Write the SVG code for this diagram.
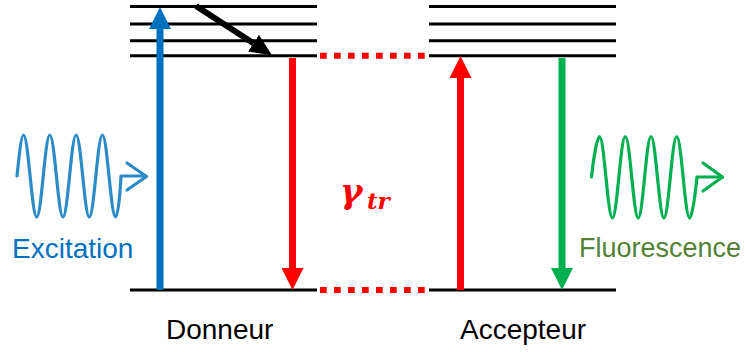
<svg xmlns="http://www.w3.org/2000/svg" width="745" height="352" viewBox="0 0 745 352">
<style>
.lvl{stroke:#000;stroke-width:3;fill:none}
.dot{stroke:#FF0000;stroke-width:6;stroke-dasharray:6.7 7.3;fill:none}
.shaft{stroke-width:7;fill:none}
.wave{fill:none;stroke-width:3.2;stroke-linejoin:round;stroke-linecap:round}
.lbl{font-family:"Liberation Sans",Arial,sans-serif;font-size:28px}
.gam{font-family:"DejaVu Serif","Liberation Serif",serif;font-weight:bold;font-style:italic;fill:#FF0000}
</style>
<defs>
<marker id="hBlue" markerUnits="userSpaceOnUse" markerWidth="22" markerHeight="22" viewBox="0 0 22 22" refX="0" refY="11" orient="auto"><path d="M0,0 L22,11 L0,22 z" fill="#0070C0"/></marker>
<marker id="hRed" markerUnits="userSpaceOnUse" markerWidth="22" markerHeight="22" viewBox="0 0 22 22" refX="0" refY="11" orient="auto"><path d="M0,0 L22,11 L0,22 z" fill="#FF0000"/></marker>
<marker id="hGreen" markerUnits="userSpaceOnUse" markerWidth="22" markerHeight="22" viewBox="0 0 22 22" refX="0" refY="11" orient="auto"><path d="M0,0 L22,11 L0,22 z" fill="#00B050"/></marker>
<marker id="hBlack" markerUnits="userSpaceOnUse" markerWidth="22" markerHeight="20" viewBox="0 0 22 20" refX="0" refY="10" orient="auto"><path d="M0,0 L22,10 L0,20 z" fill="#000"/></marker>
</defs>
<rect width="745" height="352" fill="#fff"/>

<g id="donneur">
<line class="lvl" x1="130" y1="6.5" x2="317" y2="6.5"/>
<line class="lvl" x1="130" y1="24" x2="317" y2="24"/>
<line class="lvl" x1="130" y1="40.8" x2="317" y2="40.8"/>
<line class="lvl" x1="130" y1="55.8" x2="317" y2="55.8"/>
<line class="lvl" x1="130" y1="290" x2="317" y2="290"/>
<text class="lbl" x="166" y="339" fill="#000">Donneur</text>
</g>

<g id="accepteur">
<line class="lvl" x1="429" y1="6.5" x2="616" y2="6.5"/>
<line class="lvl" x1="429" y1="24" x2="616" y2="24"/>
<line class="lvl" x1="429" y1="40.8" x2="616" y2="40.8"/>
<line class="lvl" x1="429" y1="55.8" x2="616" y2="55.8"/>
<line class="lvl" x1="429" y1="290" x2="616" y2="290"/>
<text class="lbl" x="460" y="339" fill="#000">Accepteur</text>
</g>

<g id="excitation">
<path class="wave" stroke="#2A8BC8" d="M17,176 C19.2,155 21.3,135 23.5,135 C28.3,135 31.9,217 36.7,217 C41.5,217 45,135 49.8,135 C54.6,135 58.2,217 63,217 C67.8,217 71.3,135 76.1,135 C80.9,135 84.5,217 89.3,217 C94.1,217 97.6,135 102.4,135 C107.2,135 110.8,217 115.6,217 C118,217 120,195 121,176 L146,176"/>
<path class="wave" stroke="#2A8BC8" d="M127,163 L146.5,176.5 L127,190"/>
<text class="lbl" x="12" y="258" fill="#0070C0">Excitation</text>
</g>

<g id="fluorescence">
<path class="wave" stroke="#00B050" d="M591.5,177 C593.5,156 597.5,136.5 599.5,136.5 C604.2,136.5 607.7,218 612.4,218 C617.1,218 620.6,136.5 625.3,136.5 C630,136.5 633.5,218 638.2,218 C642.9,218 646.3,136.5 651,136.5 C655.7,136.5 659.2,218 663.9,218 C668.6,218 672,136.5 676.7,136.5 C681.4,136.5 684.9,218 689.6,218 C692,218 695,197 697,177 L722,177"/>
<path class="wave" stroke="#00B050" d="M703,163 L722.5,177 L703,191"/>
<text class="lbl" x="579" y="257" fill="#538135" style="font-size:27px">Fluorescence</text>
</g>

<g id="gamma">
<text class="gam" x="340" y="203" style="font-size:34px">γ<tspan x="367" y="209" style="font-size:23px">tr</tspan></text>
</g>

<g id="connectors">
<line class="shaft" stroke="#0070C0" x1="160" y1="290" x2="160" y2="29" marker-end="url(#hBlue)"/>
<line stroke="#000" stroke-width="6" x1="196" y1="6" x2="253.5" y2="43.2" marker-end="url(#hBlack)"/>
<line class="shaft" stroke="#FF0000" x1="292.5" y1="58" x2="292.5" y2="268" marker-end="url(#hRed)"/>
<line class="shaft" stroke="#FF0000" x1="460.5" y1="290" x2="460.5" y2="78" marker-end="url(#hRed)"/>
<line class="shaft" stroke="#00B050" x1="562" y1="58" x2="562" y2="268" marker-end="url(#hGreen)"/>
<line class="dot" x1="320" y1="55.8" x2="426" y2="55.8"/>
<line class="dot" x1="320" y1="290" x2="426" y2="290"/>
</g>
</svg>
